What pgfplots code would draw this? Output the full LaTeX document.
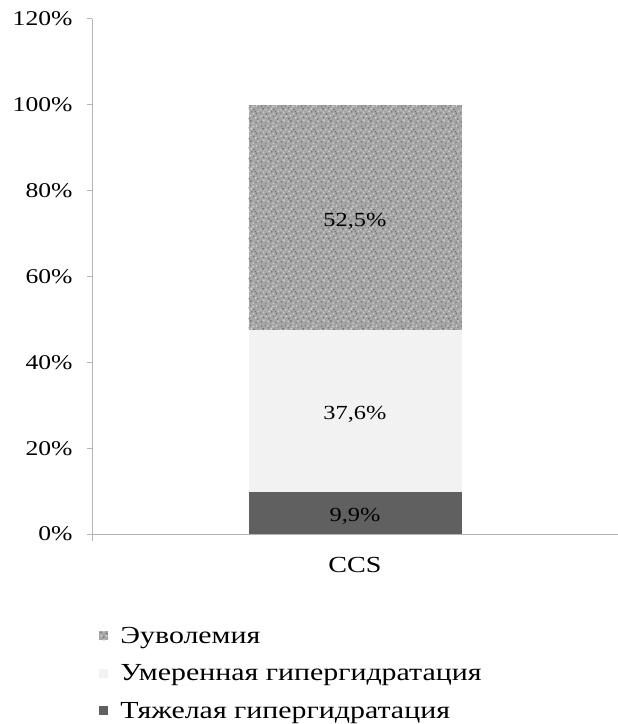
\documentclass[border=0pt]{standalone}
\usepackage{fontspec}
\setmainfont{Liberation Serif}[FakeStretch=1.22]
\usepackage{pgfplots}
\pgfplotsset{compat=1.18}
\usetikzlibrary{patterns}

\definecolor{axisgray}{RGB}{180,180,180}
\definecolor{darkseg}{RGB}{96,96,96}
\definecolor{lightseg}{RGB}{242,242,242}
\definecolor{midseg}{RGB}{166,166,166}
\definecolor{speck}{RGB}{112,112,112}
\definecolor{flake}{RGB}{212,212,212}

\newcommand\grain[3]{\pgfpathcircle{\pgfqpoint{#1pt}{#2pt}}{#3pt}}

% granite-like texture for the Euvolemia segment: two speckle layers
\pgfdeclarepatternformonly{grainsdark}{\pgfpointorigin}{\pgfqpoint{20pt}{20pt}}{\pgfqpoint{20pt}{20pt}}{
  \grain{1.5}{2.3}{0.9}\grain{6.2}{0.9}{0.7}\grain{11.4}{3.1}{1.0}\grain{16.8}{1.7}{0.8}
  \grain{3.7}{6.8}{0.8}\grain{9.1}{5.6}{1.0}\grain{14.2}{7.9}{0.8}\grain{18.6}{5.2}{0.9}
  \grain{0.9}{11.5}{0.7}\grain{6.8}{10.4}{1.0}\grain{12.3}{12.6}{0.8}\grain{17.1}{10.9}{0.9}
  \grain{3.2}{15.8}{1.0}\grain{8.9}{16.9}{0.8}\grain{14.6}{15.3}{0.9}\grain{18.9}{17.8}{0.7}
  \grain{5.5}{19.0}{0.7}\grain{11.0}{19.1}{0.7}\grain{16.0}{13.0}{0.7}\grain{1.8}{18.6}{0.8}
  \pgfusepath{fill}
}
\pgfdeclarepatternformonly{grainslight}{\pgfpointorigin}{\pgfqpoint{20pt}{20pt}}{\pgfqpoint{20pt}{20pt}}{
  \grain{4.0}{3.9}{1.0}\grain{8.6}{2.7}{0.8}\grain{13.8}{0.9}{0.8}\grain{18.9}{3.0}{0.9}
  \grain{1.2}{8.3}{0.9}\grain{6.4}{8.1}{1.0}\grain{11.2}{8.9}{0.8}\grain{16.5}{6.4}{1.0}
  \grain{3.9}{12.4}{0.9}\grain{9.6}{13.1}{1.0}\grain{14.1}{10.7}{0.8}\grain{19.1}{13.4}{0.8}
  \grain{1.0}{14.8}{0.8}\grain{6.1}{15.0}{0.9}\grain{11.9}{16.0}{1.0}\grain{17.2}{18.8}{0.9}
  \grain{8.3}{18.9}{0.8}\grain{13.6}{18.4}{0.9}
  \pgfusepath{fill}
}

\begin{document}
\begin{tikzpicture}
\useasboundingbox (0,0) rectangle (618pt,724pt);
\begin{axis}[
  at={(92pt,190pt)}, anchor=south west,
  scale only axis, width=526pt, height=515pt,
  ybar stacked, bar width=213pt,
  xmin=-1, xmax=1, ymin=0, ymax=120,
  axis x line*=bottom, axis y line*=left,
  axis line style={draw=axisgray, line width=1pt, -},
  xtick={0}, xticklabels={CCS},
  ytick={0,20,...,120},
  yticklabel={\pgfmathprintnumber{\tick}\%},
  /pgf/number format/assume math mode=true,
  tick align=outside, major tick length=5pt,
  tick style={draw=axisgray, line width=1pt},
  x tick style={draw=none},
  extra x ticks={-1,1}, extra x tick labels={},
  extra x tick style={x tick style={draw=axisgray, line width=1pt}, major tick length=7pt},
  y tick label style={font=\fontsize{21}{25}\selectfont, xshift=-11pt},
  x tick label style={font=\fontsize{23}{27}\selectfont, yshift=-15pt},
  every node near coord/.append style={anchor=center, yshift=-4pt,
    font=\fontsize{20}{24}\selectfont, text=black},
  legend style={at={(0.008,-0.172)}, anchor=north west, draw=none, fill=none,
    font=\fontsize{24.5}{29}\selectfont, row sep=16pt, column sep=10pt},
  legend cell align=left,
  reverse legend,
  legend image code/.code={\draw[#1, draw=none] (0pt,-4.5pt) rectangle (9pt,4.5pt);},
]
\addplot[fill=darkseg, draw=none, nodes near coords={9,9\%}]
  coordinates {(0,9.9)};
\addplot[fill=lightseg, draw=none, nodes near coords={37,6\%}]
  coordinates {(0,37.6)};
\addplot[fill=midseg, draw=none,
  postaction={pattern=grainsdark, pattern color=speck},
  postaction={pattern=grainslight, pattern color=flake},
  nodes near coords={52,5\%}]
  coordinates {(0,52.5)};
\legend{Тяжелая гипергидратация, Умеренная гипергидратация, Эуволемия}
\end{axis}
\end{tikzpicture}
\end{document}
